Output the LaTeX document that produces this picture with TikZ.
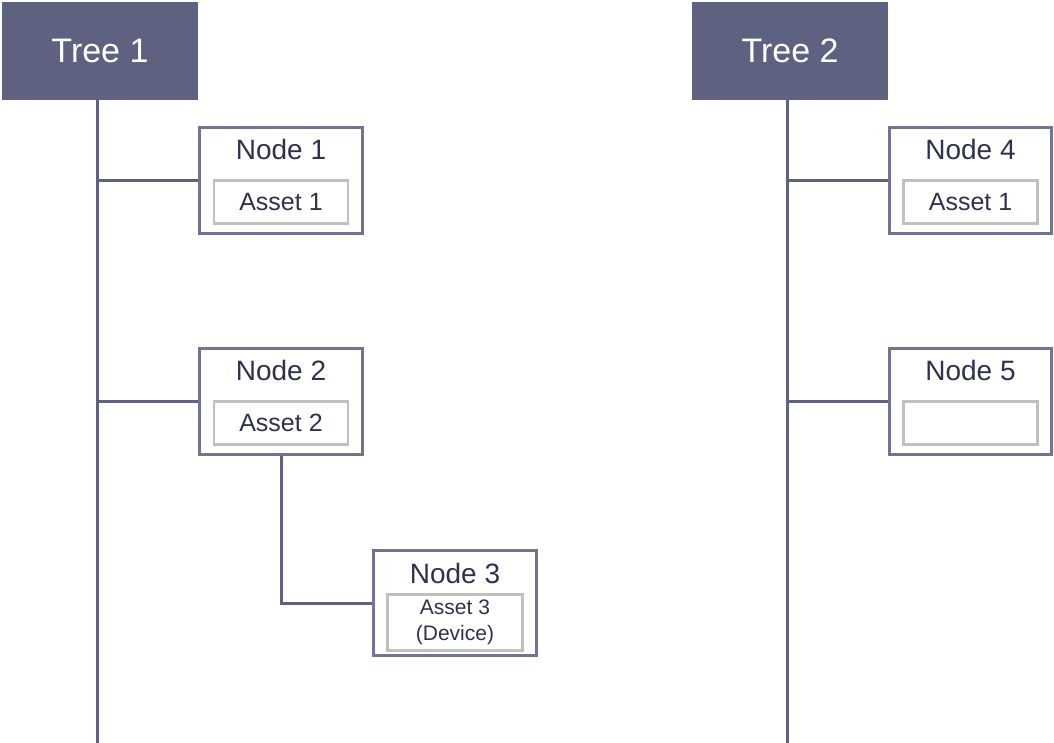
\documentclass[tikz,border=0pt]{standalone}
\usepackage{fontspec}
\setmainfont{Liberation Sans}
\usetikzlibrary{positioning,calc}
\definecolor{treeblue}{RGB}{94,97,128}
\definecolor{boxblue}{RGB}{113,116,146}
\definecolor{textblue}{RGB}{46,50,77}
\definecolor{assetgray}{RGB}{192,192,192}
\tikzset{
    treehead/.style={fill=treeblue, text=white, minimum width=196pt, minimum height=98pt, inner sep=0pt, font=\fontsize{34}{40}\selectfont},
    trunk/.style={draw=treeblue, line width=3pt},
    nodebox/.style={draw=boxblue, fill=white, line width=3pt, minimum width=163pt, minimum height=106pt, inner sep=0pt},
    nodetitle/.style={text=textblue, inner sep=0pt, font=\fontsize{28}{32}\selectfont},
    assetbox/.style={draw=assetgray, line width=2.5pt, minimum width=134pt, minimum height=43pt, inner sep=0pt, text=textblue, font=\fontsize{25}{28}\selectfont}
}

\begin{document}
\begin{tikzpicture}[x=1pt, y=-1pt]
    \useasboundingbox (0,0) rectangle (1054,743);

    % tree heads and trunks
    \node[treehead] (tree1) at (100,51) {Tree 1};
    \node[treehead] (tree2) at (790,51) {Tree 2};
    \coordinate (t1top) at (97,100);
    \coordinate (t1end) at (97,743);
    \coordinate (t2top) at (787,100);
    \coordinate (t2end) at (787,743);
    \draw[trunk] (t1top) -- (t1end);
    \draw[trunk] (t2top) -- (t2end);

    % tree 1
    \node[nodebox] (n1) at (281,180.5) {};
    \node[nodetitle] (n1title) at ([yshift=-23.5pt]n1.north) {Node 1};
    \node[assetbox] (a1) at ([yshift=33pt]n1.south) {Asset 1};

    \node[nodebox] (n2) at (281,401.5) {};
    \node[nodetitle] (n2title) at ([yshift=-23.5pt]n2.north) {Node 2};
    \node[assetbox] (a2) at ([yshift=33pt]n2.south) {Asset 2};

    \node[nodebox, minimum height=105pt] (n3) at (455,603) {};
    \node[nodetitle] (n3title) at ([yshift=-24pt]n3.north) {Node 3};
    \node[assetbox, minimum width=135pt, minimum height=56pt, align=center, font=\fontsize{21}{26}\selectfont] (a3) at ([yshift=34.5pt]n3.south) {Asset 3\\(Device)};

    \draw[trunk] (t1top |- n1.west) -- (n1.west);
    \draw[trunk] (t1top |- n2.west) -- (n2.west);
    \draw[trunk] (n2.south) |- (n3.west);

    % tree 2
    \node[nodebox, minimum width=162pt] (n4) at (970.5,180.5) {};
    \node[nodetitle] (n4title) at ([yshift=-23.5pt]n4.north) {Node 4};
    \node[assetbox] (a4) at ([yshift=33pt]n4.south) {Asset 1};

    \node[nodebox, minimum width=162pt] (n5) at (970.5,401.5) {};
    \node[nodetitle] (n5title) at ([yshift=-23.5pt]n5.north) {Node 5};
    \node[assetbox] (a5) at ([yshift=33pt]n5.south) {};

    \draw[trunk] (t2top |- n4.west) -- (n4.west);
    \draw[trunk] (t2top |- n5.west) -- (n5.west);
\end{tikzpicture}
\end{document}
